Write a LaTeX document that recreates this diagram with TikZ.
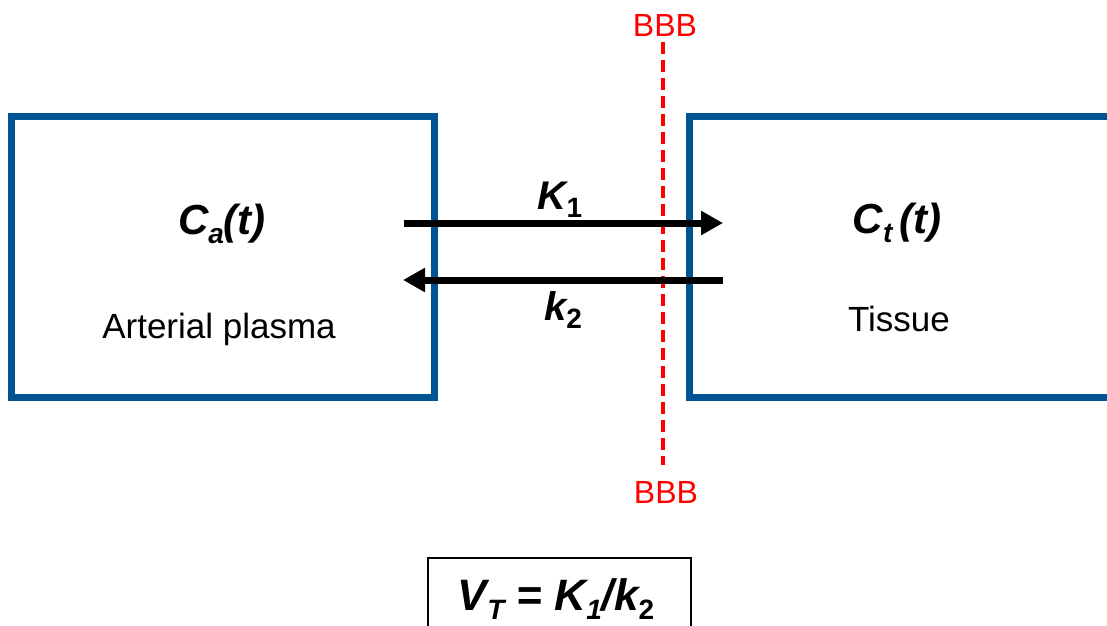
\documentclass[tikz,border=0pt]{standalone}
\usepackage{fontspec}
\setmainfont{Liberation Sans}
\usetikzlibrary{arrows.meta}
\definecolor{boxblue}{RGB}{0,84,147}
\newcommand{\bsub}[1]{\raisebox{-0.22em}{\fontsize{28}{30}\selectfont #1}}
\begin{document}
\begin{tikzpicture}[x=1pt,y=-1pt,
  compbox/.style={draw=boxblue,line width=7pt},
  flux/.style={line width=7pt,-{Triangle[length=22pt,width=23pt]}},
  bbbline/.style={draw=red,line width=3.5pt,dash pattern=on 12pt off 6pt},
  bbblabel/.style={text=red,font=\fontsize{32}{36}\selectfont,inner sep=0pt},
  bigmath/.style={font=\fontsize{42}{48}\selectfont\bfseries\itshape,inner sep=0pt},
  label/.style={font=\fontsize{35}{40}\selectfont,inner sep=0pt},
  ratelabel/.style={font=\fontsize{40}{46}\selectfont\bfseries\itshape,inner sep=0pt},
  resultbox/.style={draw=black,line width=2pt}
]
\clip (0,0) rectangle (1107,625);
% compartments
\draw[compbox] (11.5,116.5) rectangle (434.5,397.5);
\draw[compbox] (689.5,116.5) rectangle (1125,397.5);
\node[bigmath,anchor=base] (ca) at (222,234) {C\bsub{a}(t)};
\node[label,anchor=base] (ap) at (219,338) {Arterial plasma};
\node[bigmath,anchor=base] (ct) at (897,233) {C\bsub{t}\,(t)};
\node[label,anchor=base] (ts) at (899,331) {Tissue};
% BBB
\coordinate (bt) at (663,42);
\coordinate (bb) at (663,465);
\draw[bbbline] (bt) -- (bb);
\node[bbblabel,anchor=base] (bbbtop) at (665,36) {BBB};
\node[bbblabel,anchor=base] (bbbbot) at (666,503) {BBB};
% arrows
\coordinate (k1s) at (404,223);
\coordinate (k1e) at (723,223);
\coordinate (k2s) at (723,280);
\coordinate (k2e) at (403,280);
\draw[flux] (k1s) -- (k1e);
\draw[flux] (k2s) -- (k2e);
\node[ratelabel,anchor=base] (k1) at (560,209) {K\bsub{\normalfont\bfseries 1}};
\node[ratelabel,anchor=base] (k2) at (563,320) {k\bsub{\normalfont\bfseries 2}};
% result
\draw[resultbox] (428,558) rectangle (691,640);
\node[font=\fontsize{44}{50}\selectfont\bfseries\itshape,inner sep=0pt,anchor=base] (vt) at (556,610) {V\bsub{T} = K\bsub{1}/k\bsub{\normalfont\bfseries 2}};
\end{tikzpicture}
\end{document}
